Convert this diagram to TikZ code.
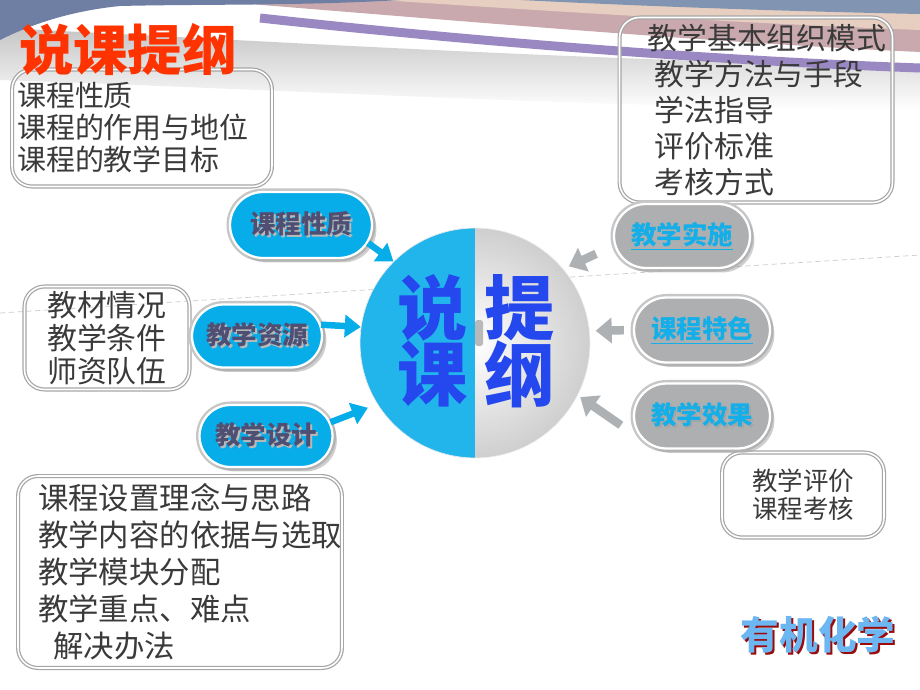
\documentclass[tikz,border=0pt]{standalone}
\usepackage{fontspec}
\setmainfont{Noto Sans CJK SC}
\usepackage{xcolor}
\usetikzlibrary{arrows.meta,shapes.misc,shadows}
\definecolor{pillcyan}{HTML}{06ADE9}
\definecolor{ballcyan}{HTML}{22B5EC}
\definecolor{pillgrey}{HTML}{ADAFB1}
\definecolor{textgrey}{HTML}{3A3A3A}
\definecolor{titlered}{HTML}{FF3300}
\definecolor{ballblue}{HTML}{2448EE}
\definecolor{slate}{HTML}{4F4E73}
\definecolor{linkcyan}{HTML}{14AEE8}
\definecolor{arrowgrey}{HTML}{ADB1B4}
\definecolor{subjblue}{HTML}{6CB6F2}
\definecolor{darkred}{HTML}{9A0A0A}
\definecolor{swA}{HTML}{C9A9AE}
\definecolor{swB}{HTML}{E6CFC0}
\definecolor{swC}{HTML}{8195B2}
\definecolor{swD}{HTML}{6F7FA3}
\definecolor{swP}{HTML}{9A88C2}
\newcommand{\shadowtxt}[3]{\makebox[0pt][l]{\raisebox{-1.2pt}{\hspace{1.2pt}\textcolor{#1}{#3}}}\textcolor{#2}{#3}}

\begin{document}
\begin{tikzpicture}[x=0.02cm,y=-0.02cm,
 box/.style={draw=gray!70,double=white,double distance=0.9pt,line width=0.7pt,rounded corners=0.4cm,text=textgrey,inner ysep=0pt},
 pill/.style={rounded rectangle,preaction={draw=gray!45,line width=4pt},draw=white,line width=1.3pt,minimum height=1.3cm,minimum width=2.72cm,inner sep=0pt,font=\fontsize{14.5}{16}\selectfont\bfseries,drop shadow={shadow xshift=2.5pt,shadow yshift=-2.5pt,fill=gray!75}},
 bluepill/.style={pill,fill=pillcyan},
 greypill/.style={pill,fill=pillgrey},
 ball/.style={circle,minimum size=4.6cm,inner sep=0pt,draw=gray!15,inner color=white,outer color=gray!38,path picture={\fill[ballcyan] (path picture bounding box.south west) rectangle (path picture bounding box.north);}},
 bigchar/.style={text=ballblue,font=\fontsize{40}{40}\selectfont\bfseries,inner sep=0pt},
 cyanarr/.style={-{Triangle[length=0.32cm,width=0.44cm]},line width=0.13cm,pillcyan},
 greyarr/.style={-{Triangle[length=0.32cm,width=0.5cm]},line width=0.17cm,arrowgrey}
]
\useasboundingbox (0,0) rectangle (920,690);
\fill[white] (0,0) rectangle (920,690);
\shade[top color=gray!45,bottom color=white] (0,28) .. controls (250,40) and (600,62) .. (920,66) -- (920,110) .. controls (600,108) and (250,88) .. (0,80) -- cycle;
\fill[swA] (200,0) .. controls (450,20) and (700,42) .. (920,52) -- (920,0) -- cycle;
\fill[swB] (380,0) .. controls (560,12) and (760,24) .. (920,30) -- (920,0) -- cycle;
\fill[swC] (520,0) .. controls (680,8) and (820,12) .. (920,14) -- (920,0) -- cycle;
\draw[white,line width=0.06cm] (240,10) .. controls (450,30) and (700,50) .. (920,58);
\draw[swP,line width=0.18cm] (260,18) .. controls (460,40) and (700,60) .. (920,68);
\fill[swD] (0,0) -- (0,40) .. controls (20,30) and (60,12) .. (120,6) .. controls (200,4) and (300,6) .. (400,0) -- cycle;
\draw[gray!40,dash pattern=on 3pt off 2pt,line width=0.4pt] (0,313) -- (920,255);

\node[box,text width=5.0cm,inner xsep=0.1cm,minimum height=2.34cm,align=left,font=\fontsize{16.5}{18.2}\selectfont] (nat) at (142,128) {课程性质\\课程的作用与地位\\课程的教学目标};
\node[font=\fontsize{31}{31}\selectfont\bfseries,text=titlered,inner sep=0pt] (ttl) at (128,50) {说课提纲};
\node[box,text width=2.9cm,inner xsep=0.2cm,minimum height=2.06cm,align=center,font=\fontsize{17}{18.8}\selectfont] (res) at (107,338) {教材情况\\教学条件\\师资队伍};
\node[box,text width=5.68cm,inner xsep=0.4cm,minimum height=3.84cm,align=left,font=\fontsize{17.3}{21}\selectfont] (des) at (180,572) {课程设置理念与思路\\教学内容的依据与选取\\教学模块分配\\教学重点、难点\\\hspace*{0.5em}解决办法};
\node[box,text width=4.34cm,inner xsep=0.56cm,minimum height=3.7cm,align=left,font=\fontsize{17}{20.6}\selectfont] (imp) at (756,110) {教学基本组织模式\\\hspace*{0.14cm}教学方法与手段\\\hspace*{0.14cm}学法指导\\\hspace*{0.14cm}评价标准\\\hspace*{0.14cm}考核方式};
\node[box,text width=2.84cm,inner xsep=0.2cm,minimum height=1.7cm,align=center,font=\fontsize{14.5}{16}\selectfont] (eva) at (803,495) {教学评价\\课程考核};

\node[ball] (ctr) at (475,343) {};
\fill[gray!55,rounded corners=1.5pt] (475,320) rectangle (483,346);
\node[bigchar] (shuo) at (433,308) {说};
\node[bigchar] (ke) at (433,374) {课};
\node[bigchar] (ti) at (520,308) {提};
\node[bigchar] (gang) at (520,374) {纲};

\node[bluepill,minimum width=2.84cm,minimum height=1.32cm] (pA) at (301,225) {\shadowtxt{gray!55}{slate}{课程性质}};
\node[bluepill,minimum width=2.6cm,minimum height=1.26cm] (pB) at (257,336) {\shadowtxt{gray!55}{slate}{教学资源}};
\node[bluepill,minimum width=2.66cm,minimum height=1.24cm] (pC) at (266,436) {\shadowtxt{gray!55}{slate}{教学设计}};
\node[greypill,minimum height=1.28cm] (pD) at (682,236) {\textcolor{linkcyan}{\underline{教学实施}}};
\node[greypill] (pE) at (702,330) {\textcolor{linkcyan}{\underline{课程特色}}};
\node[greypill] (pF) at (702,416) {\shadowtxt{gray!70}{linkcyan}{教学效果}};

\draw[cyanarr] (pA.-15) -- (ctr.135);
\draw[cyanarr] (pB.10) -- (ctr.172);
\draw[cyanarr,shorten >=0.2cm] (pC.12) -- (ctr.212);
\draw[greyarr,shorten <=0.4cm,shorten >=0.12cm] (pD.188) -- (ctr.40);
\draw[greyarr,shorten <=0.18cm,shorten >=0.12cm] (pE.west) -- (ctr.6);
\draw[greyarr,shorten <=0.6cm,shorten >=0.06cm] (pF.205) -- (ctr.-27);

\node[font=\fontsize{22}{22}\selectfont\bfseries,inner sep=0pt] (sub) at (818,636) {\shadowtxt{darkred}{subjblue}{有机化学}};
\end{tikzpicture}
\end{document}
